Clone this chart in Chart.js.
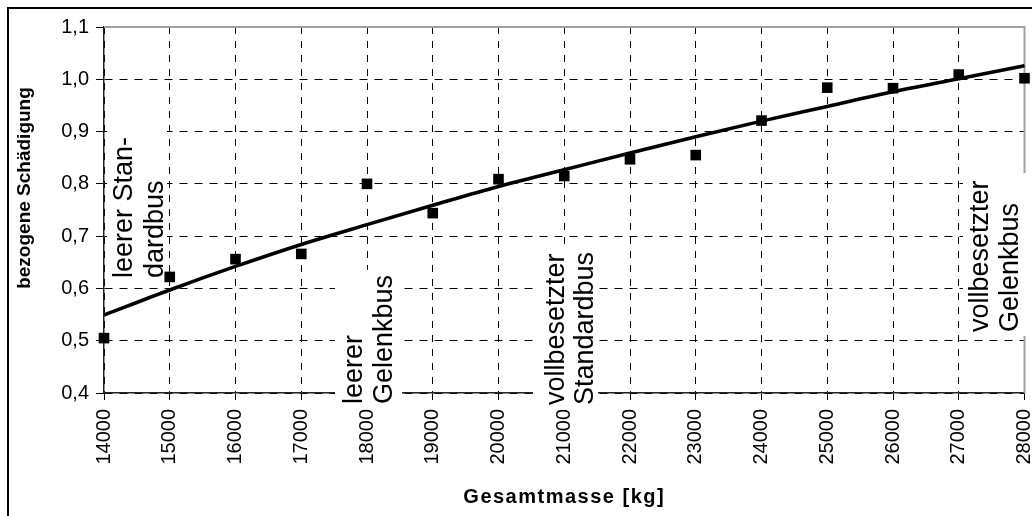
<!DOCTYPE html>
<html>
<head>
<meta charset="utf-8">
<script src="https://cdn.jsdelivr.net/npm/chart.js@4.4.1/dist/chart.umd.min.js"></script>
<style>
  html, body { margin: 0; padding: 0; background: #fff; }
  #wrap { width: 1032px; height: 516px; }
</style>
</head>
<body>
<div id="wrap"><canvas id="c" width="1032" height="516"></canvas></div>
<script>
// ---- data ----
const massKg = [14000, 15000, 16000, 17000, 18000, 19000, 20000, 21000, 22000, 23000, 24000, 25000, 26000, 27000, 28000];
const measuredDamage = [0.505, 0.622, 0.656, 0.666, 0.800, 0.744, 0.809, 0.815, 0.847, 0.855, 0.921, 0.984, 0.983, 1.009, 1.002];
const trendDamage = [0.549, 0.597, 0.642, 0.684, 0.722, 0.759, 0.795, 0.827, 0.859, 0.890, 0.920, 0.948, 0.976, 1.001, 1.026];
const xTickLabels = ['14000', '15000', '16000', '17000', '18000', '19000', '20000', '21000', '22000', '23000', '24000', '25000', '26000', '27000', '28000'];
const yTickLabels = ['0,4', '0,5', '0,6', '0,7', '0,8', '0,9', '1,0', '1,1'];
const xTitle = 'Gesamtmasse [kg]';
const yTitle = 'bezogene Schädigung';
const annotationTexts = [
  ['leerer Stan-', 'dardbus'],
  ['leerer', 'Gelenkbus'],
  ['vollbesetzter', 'Standardbus'],
  ['vollbesetzter', 'Gelenkbus']
];

// ---- layout / styling of annotations (pixels) ----
const annotationLayout = [
  { baselines: [132, 163], startY: 278, box: [107, 125, 167, 283] },
  { baselines: [362, 392], startY: 404, box: [335, 270, 402, 408] },
  { baselines: [564, 593], startY: 405, box: [533, 248, 598, 410] },
  { baselines: [988, 1018], startY: 332, box: [963, 173, 1031, 336] }
];

const FONT = "'Liberation Sans', Arial, Helvetica, sans-serif";
Chart.defaults.font.family = FONT;
Chart.defaults.color = '#000';

const decorPlugin = {
  id: 'decor',
  beforeDraw(chart) {
    const ctx = chart.ctx;
    ctx.save();
    ctx.fillStyle = '#fff';
    ctx.fillRect(0, 0, chart.width, chart.height);
    ctx.strokeStyle = '#000';
    ctx.lineWidth = 2;
    ctx.beginPath();
    ctx.moveTo(8, chart.height + 5);
    ctx.lineTo(8, 8);
    ctx.lineTo(chart.width + 5, 8);
    ctx.stroke();
    ctx.restore();
  },
  beforeDatasetsDraw(chart) {
    const ctx = chart.ctx;
    const a = chart.chartArea;
    ctx.save();
    // grey plot frame (top & right)
    ctx.strokeStyle = '#a0a0a0';
    ctx.lineWidth = 2;
    ctx.beginPath();
    ctx.moveTo(a.left, a.top);
    ctx.lineTo(a.right, a.top);
    ctx.lineTo(a.right, a.bottom);
    ctx.stroke();
    // annotations
    annotationTexts.forEach((lines, i) => {
      const L = annotationLayout[i];
      const [x0, y0, x1, y1] = L.box;
      ctx.fillStyle = '#fff';
      ctx.fillRect(x0, y0, x1 - x0, y1 - y0);
      ctx.fillStyle = '#000';
      ctx.font = '27px ' + FONT;
      ctx.textAlign = 'left';
      ctx.textBaseline = 'alphabetic';
      lines.forEach((t, j) => {
        ctx.save();
        ctx.translate(L.baselines[j], L.startY);
        ctx.rotate(-Math.PI / 2);
        ctx.fillText(t, 0, 0);
        ctx.restore();
      });
    });
    ctx.restore();
  },
  afterDraw(chart) {
    const ctx = chart.ctx;
    const a = chart.chartArea;
    ctx.save();
    ctx.fillStyle = '#000';
    ctx.font = 'bold 20px ' + FONT;
    ctx.textAlign = 'center';
    ctx.textBaseline = 'alphabetic';
    try { ctx.letterSpacing = '1.5px'; } catch (e) {}
    ctx.fillText(xTitle, (a.left + a.right) / 2, 503);
    try { ctx.letterSpacing = '0px'; } catch (e) {}
    ctx.font = 'bold 19px ' + FONT;
    ctx.translate(30, 188);
    ctx.rotate(-Math.PI / 2);
    ctx.fillText(yTitle, 0, 0);
    ctx.restore();
  }
};

const measuredPoints = massKg.map((x, i) => ({ x, y: measuredDamage[i] }));
const trendPoints = massKg.map((x, i) => ({ x, y: trendDamage[i] }));

new Chart(document.getElementById('c'), {
  type: 'line',
  data: {
    datasets: [
      {
        label: 'Trend',
        data: trendPoints,
        borderColor: '#000',
        borderWidth: 3.5,
        pointRadius: 0,
        cubicInterpolationMode: 'monotone',
        fill: false,
        clip: 4,
        order: 2
      },
      {
        label: 'Messwerte',
        data: measuredPoints,
        showLine: false,
        pointStyle: 'rect',
        pointRadius: 7.5,
        pointBackgroundColor: '#000',
        pointBorderWidth: 0,
        clip: false,
        order: 1
      }
    ]
  },
  options: {
    responsive: false,
    animation: false,
    events: [],
    layout: { padding: { left: 0, top: 27, right: 7, bottom: 0 } },
    plugins: { legend: { display: false }, tooltip: { enabled: false }, title: { display: false } },
    scales: {
      x: {
        type: 'linear',
        min: 14000,
        max: 28000,
        afterFit(s) { s.height = 123; s.paddingLeft = 0; s.paddingRight = 0; },
        ticks: {
          stepSize: 1000,
          autoSkip: false,
          minRotation: 90,
          maxRotation: 90,
          padding: 9,
          font: { size: 20 },
          color: '#000',
          callback: (v, i) => xTickLabels[i]
        },
        grid: {
          color: (c) => (c.tick && c.tick.value === 28000) ? 'rgba(0,0,0,0)' : '#000',
          lineWidth: 1,
          tickColor: '#000',
          tickLength: 7,
          tickBorderDash: []
        },
        border: { display: true, color: '#222', width: 1.5, dash: [7, 7] }
      },
      y: {
        type: 'linear',
        min: 0.4,
        max: 1.1,
        afterFit(s) { s.width = 104; s.paddingTop = 0; s.paddingBottom = 0; },
        ticks: {
          stepSize: 0.1,
          padding: 7,
          font: { size: 20 },
          color: '#000',
          callback: (v, i) => yTickLabels[i]
        },
        grid: {
          color: (c) => (c.tick && Math.abs(c.tick.value - 1.1) < 1e-6) ? 'rgba(0,0,0,0)' : '#000',
          lineWidth: 1,
          tickColor: '#000',
          tickLength: 8,
          tickBorderDash: []
        },
        border: { display: true, color: '#222', width: 1.5, dash: [8, 7] }
      }
    }
  },
  plugins: [decorPlugin]
});
</script>
</body>
</html>
